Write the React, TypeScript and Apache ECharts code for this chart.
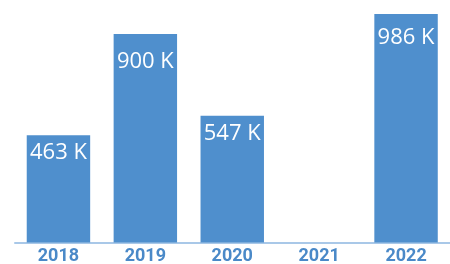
import React, { useEffect, useRef } from "react";
import * as echarts from "echarts";

const categories = ["2018", "2019", "2020", "2021", "2022"];
const values = [463, 900, 547, 0, 986]; // thousands

export default function App() {
  const ref = useRef<HTMLDivElement>(null);
  useEffect(() => {
    const chart = echarts.init(ref.current!, null, { renderer: "svg" });
    // label gap below each bar's top, as seen in the reference
    const labelGaps = [3.5, 14, 4.2, 4, 9.5];
    chart.setOption({
      animation: false,
      grid: { left: 15, right: 0.5, top: 10.8, bottom: 21.5 },
      xAxis: {
        type: "category",
        data: categories,
        axisTick: { show: false },
        axisLine: { lineStyle: { color: "#a9c8e8", width: 2 } },
        axisLabel: {
          color: "#4a89c8",
          fontFamily: "Roboto",
          fontWeight: "bold",
          fontSize: 18,
          lineHeight: 18,
          margin: 3,
        },
      },
      yAxis: {
        type: "value",
        min: 0,
        max: 1000,
        show: false,
        splitLine: { show: false },
      },
      series: [
        {
          type: "bar",
          data: values.map((v, i) => ({ value: v, label: { distance: labelGaps[i] } })),
          barCategoryGap: "27%",
          itemStyle: { color: "#4f8fcd" },
          label: {
            show: true,
            position: "insideTop",
            color: "#ffffff",
            fontFamily: "Open Sans",
            fontSize: 22,
            formatter: (p: any) => (p.value ? p.value + " K" : ""),
          },
        },
      ],
    });
    return () => chart.dispose();
  }, []);
  return <div ref={ref} style={{ width: 450, height: 264, position: "fixed", left: 0, top: 0 }} />;
}
